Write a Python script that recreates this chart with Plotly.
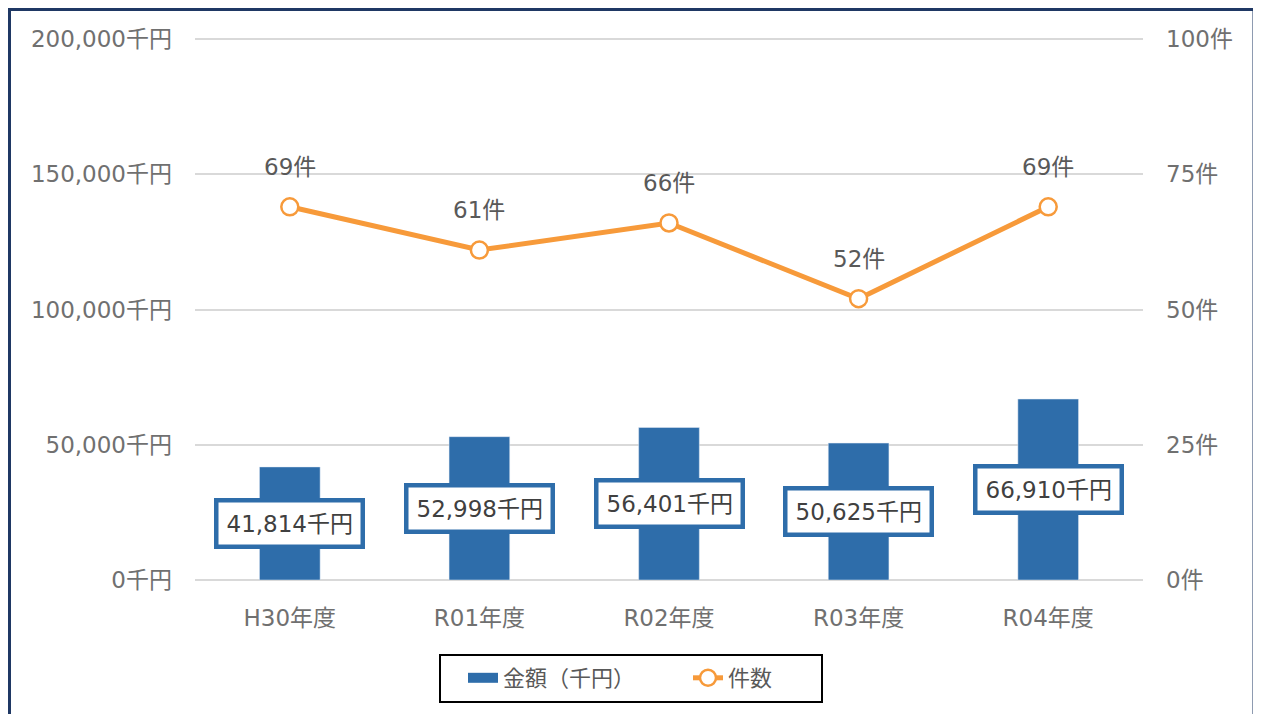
import plotly.graph_objects as go

categories = ["H30年度", "R01年度", "R02年度", "R03年度", "R04年度"]
amounts = [41814, 52998, 56401, 50625, 66910]
counts = [69, 61, 66, 52, 69]
left_ticks = [0, 50000, 100000, 150000, 200000]
left_labels = [f"{v:,}千円" for v in left_ticks]
right_ticks = [0, 25, 50, 75, 100]
right_labels = [f"{v}件" for v in right_ticks]

BLUE = "#2E6DAA"
ORANGE = "#F79A3A"
GREY = "#595959"
TICKGREY = "#707070"
FONT = "DejaVu Sans, Noto Sans CJK JP, sans-serif"
FS = 23

# plot area in figure coordinates (page has 8px body margin)
L, R, T, B = 187, 1135, 30, 572
PW, PH = R - L, B - T


def px_x(x):
    return (x - L) / PW


def px_y(y):
    return (B - y) / PH


fig = go.Figure()
# legend-only swatch for the bars (wide rectangle like the reference)
fig.add_trace(go.Scatter(x=[categories[0]], y=[None], mode="lines", name="金額（千円）",
                         line=dict(color=BLUE, width=14), hoverinfo="skip", legend="legend"))
fig.add_trace(go.Bar(x=categories, y=amounts, name="金額（千円）", marker_color=BLUE,
                     width=0.32, yaxis="y", showlegend=False))
fig.add_trace(go.Scatter(x=categories, y=counts, name="件数", yaxis="y2", mode="lines+markers",
                         line=dict(color=ORANGE, width=5), legend="legend2",
                         marker=dict(size=17, color="white", line=dict(color=ORANGE, width=2.5))))

annotations = []
for c, a in zip(categories, amounts):
    annotations.append(dict(x=c, y=a / 2, xref="x", yref="y", text=f"{a:,}千円", showarrow=False,
                            font=dict(size=FS, color="#404040", family=FONT),
                            bgcolor="white", bordercolor=BLUE, borderwidth=4.5, borderpad=8))
for c, n in zip(categories, counts):
    annotations.append(dict(x=c, y=n, xref="x", yref="y2", text=f"{n}件", showarrow=False,
                            yshift=40, font=dict(size=FS, color=GREY, family=FONT)))

leg_common = dict(orientation="h", yanchor="middle", y=px_y(670), xanchor="left",
                  bgcolor="rgba(0,0,0,0)", borderwidth=0,
                  font=dict(size=FS - 1, color=GREY, family=FONT))

fig.update_layout(
    width=1261, height=714,
    margin=dict(l=L, r=1261 - R, t=T, b=714 - B),
    paper_bgcolor="white", plot_bgcolor="white",
    font=dict(family=FONT, size=FS, color=GREY),
    bargap=0.68,
    xaxis=dict(type="category", categoryorder="array", categoryarray=categories,
               range=[-0.5, len(categories) - 0.5],
               showgrid=False, showline=False, ticks="", ticklabelstandoff=22,
               tickfont=dict(size=FS, color=TICKGREY)),
    yaxis=dict(range=[0, 200400], tickvals=left_ticks, ticktext=left_labels,
               showgrid=True, gridcolor="#D9D9D9", gridwidth=1.5,
               zeroline=True, zerolinecolor="#D9D9D9", zerolinewidth=2,
               showline=False, ticks="", ticklabelstandoff=22,
               tickfont=dict(size=FS, color=TICKGREY)),
    yaxis2=dict(range=[0, 100.2], tickvals=right_ticks, ticktext=right_labels, overlaying="y",
                side="right", showgrid=False, zeroline=False, showline=False, ticks="",
                ticklabelstandoff=22, tickfont=dict(size=FS, color=TICKGREY)),
    legend=dict(x=px_x(455), **leg_common),
    legend2=dict(x=px_x(680), **leg_common),
    annotations=annotations,
    shapes=[
        dict(type="rect", xref="paper", yref="paper",
             x0=(1.5 - L) / PW, x1=(1246 - L) / PW,
             y0=-(760 - B) / PH, y1=1 + (T - 1.5) / PH,
             line=dict(color="#1F3864", width=3), fillcolor="rgba(0,0,0,0)", layer="below"),
        dict(type="rect", xref="paper", yref="paper",
             x0=px_x(432), x1=px_x(814), y0=px_y(694), y1=px_y(647),
             line=dict(color="black", width=2), fillcolor="white", layer="below"),
    ],
)

fig.write_html("out.html")
